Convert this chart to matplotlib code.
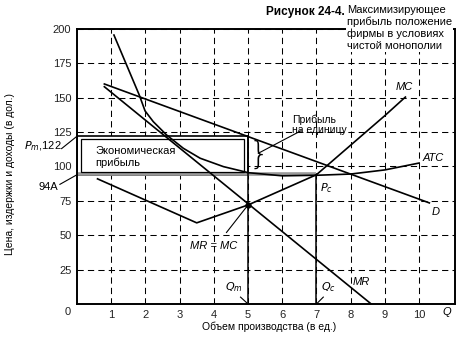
import matplotlib
matplotlib.use("Agg")
from matplotlib import pyplot as plt
from matplotlib.patches import Rectangle

plt.rcParams['font.family'] = ['Liberation Sans', 'DejaVu Sans']

# curves (quantity, dollars)
q_d = [0.8, 10.3]
p_d = [160.0, 73.5]

q_mr = [0.8, 8.6]
p_mr = [158.0, 0.0]

q_mc = [0.6, 3.5, 5.0, 6.0, 7.0, 8.0, 9.0, 9.6]
p_mc = [91.0, 59.0, 72.0, 83.0, 94.0, 115.5, 137.0, 150.5]

q_atc = [1.08, 1.82, 1.99, 2.23, 2.62, 3.11, 3.6, 4.28, 4.86, 5.0, 6.0, 7.0, 8.0, 9.0, 10.0]
p_atc = [195.6, 152.0, 140.4, 132.6, 122.9, 113.2, 106.0, 99.9, 96.4, 95.5, 93.2, 93.6, 94.5, 97.5, 102.5]

q_m, p_m, a_m = 5, 122, 94      # monopoly output, price, average cost
q_c = 7                          # competitive output
mr_mc = 72                       # MR = MC level

x_ticks = list(range(1, 11))
y_ticks = [25, 50, 75, 100, 125, 150, 175, 200]

fig = plt.figure(figsize=(4.61, 3.37), dpi=100)
ax = fig.add_axes([0.167, 0.098, 0.820, 0.816])
ax.set_xlim(0, 11.05)
ax.set_ylim(0, 200)

ax.set_xticks(x_ticks)
ax.set_yticks(y_ticks)
ax.tick_params(length=0, labelsize=8, pad=4, labelcolor='#222222')
ax.set_axisbelow(True)
ax.grid(True, linestyle=(0, (6, 4)), color='black', linewidth=0.75)
for s in ax.spines.values():
    s.set_linewidth(1.4)

# grey band at the level of A
ax.plot([0, q_c], [a_m + 0.3, a_m + 0.3], color='#999999', lw=2.6, zorder=1.5,
        solid_capstyle='butt')

# economic profit box (double frame, white inside)
ax.add_patch(Rectangle((0, a_m), q_m, p_m - a_m, facecolor='white',
                       edgecolor='black', lw=1.2, zorder=1))
ax.add_patch(Rectangle((0.12, a_m + 2.3), q_m - 0.24, p_m - a_m - 4.3,
                       facecolor='none', edgecolor='black', lw=0.9, zorder=1.6))
ax.text(0.53, 111, 'Экономическая', fontsize=8, va='center', zorder=3)
ax.text(0.53, 102.5, 'прибыль', fontsize=8, va='center', zorder=3)

# Qm and Qc verticals
ax.plot([q_m, q_m], [0, p_m], color='black', lw=1.1, zorder=2)
ax.plot([q_c, q_c], [0, a_m], color='black', lw=1.1, zorder=2)

# curves
ax.plot(q_d, p_d, color='black', lw=1.2, zorder=2)
ax.plot(q_mr, p_mr, color='black', lw=1.2, zorder=2)
ax.plot(q_mc, p_mc, color='black', lw=1.2, zorder=2)
ax.plot(q_atc, p_atc, color='black', lw=1.2, zorder=2)
ax.plot([q_m], [mr_mc], 'o', color='black', ms=3.5, zorder=3)

# brace for profit per unit
ax.text(5.02, (p_m + a_m) / 2 + 0.5, '}', fontsize=23, va='center', ha='left',
        family='DejaVu Sans', fontweight='light', zorder=3)
ax.plot([5.3, 6.55], [109.6, 126], color='black', lw=0.8)
ax.text(6.29, 134, 'Прибыль', fontsize=7.5, va='center')
ax.text(6.29, 126.5, 'на единицу', fontsize=7.5, va='center')

# curve labels
ax.text(9.56, 158, 'MC', fontsize=8, style='italic', ha='center', va='center')
ax.text(10.4, 106, 'ATC', fontsize=8, style='italic', ha='center', va='center')
ax.text(10.47, 67, 'D', fontsize=8, style='italic', ha='center', va='center')
ax.text(8.3, 16, 'MR', fontsize=8, style='italic', ha='center', va='center')
ax.text(7.3, 84, '$P_c$', fontsize=8, ha='center', va='center')
ax.text(4.6, 12, '$Q_m$', fontsize=8, ha='center', va='center')
ax.plot([4.78, 5.0], [5, 0], color='black', lw=0.8)
ax.text(7.35, 12, '$Q_c$', fontsize=8, ha='center', va='center')
ax.plot([7.2, 7.0], [5, 0], color='black', lw=0.8)
ax.text(4.0, 42, 'MR = MC', fontsize=8, style='italic', ha='center', va='center')
ax.plot([4.37, q_m], [52, mr_mc], color='black', lw=0.8)

# labels left of the axis
ax.text(-0.45, 115, '$P_m$,122', fontsize=8, ha='right', va='center', clip_on=False)
ax.plot([-0.45, 0], [113, p_m], color='black', lw=0.8, clip_on=False)
ax.text(-0.56, 85, '94A', fontsize=8, ha='right', va='center', clip_on=False)
ax.plot([-0.5, 0], [87, a_m], color='black', lw=0.8, clip_on=False)

ax.text(-0.27, -5.5, '0', fontsize=8, ha='center', va='center', clip_on=False,
        color='#222222')
ax.text(10.8, -5.5, 'Q', fontsize=8, style='italic', ha='center', va='center',
        clip_on=False)

fig.text(10 / 461, 1 - 174 / 337, 'Цена, издержки и доходы (в дол.)', rotation=90,
         fontsize=7.5, ha='center', va='center')
fig.text(269 / 461, 1 - 327 / 337, 'Объем производства (в ед.)', fontsize=7.5,
         ha='center', va='center')

# figure caption
fig.text(345 / 461, 1 - 12 / 337, 'Рисунок 24-4.', fontsize=8.5, fontweight='bold',
         ha='right', va='center')
fig.text(347 / 461, 1 - 5 / 337,
         'Максимизирующее\nприбыль положение\nфирмы в условиях\nчистой монополии',
         fontsize=8, ha='left', va='top', linespacing=1.2,
         bbox=dict(facecolor='white', edgecolor='none', pad=0.5))

fig.savefig('out.png', dpi=100)
